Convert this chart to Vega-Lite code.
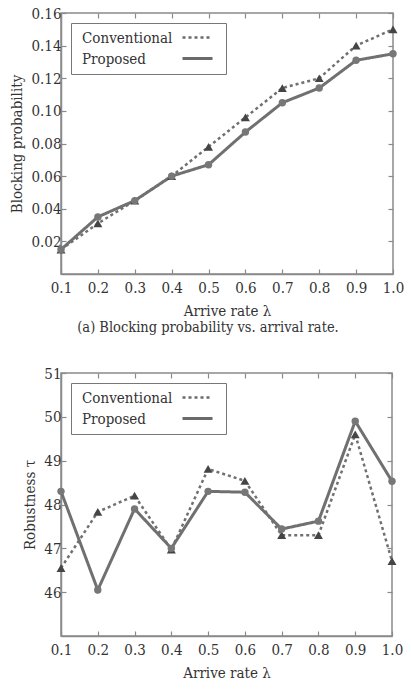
{
  "$schema": "https://vega.github.io/schema/vega-lite/v6.json",
  "background": "white",
  "padding": {"left": 9, "right": 12, "top": 5, "bottom": 5},
  "datasets": {
    "blocking": [
      {"rate": 0.1, "series": "Conventional", "value": 0.015},
      {"rate": 0.2, "series": "Conventional", "value": 0.031},
      {"rate": 0.3, "series": "Conventional", "value": 0.045},
      {"rate": 0.4, "series": "Conventional", "value": 0.060},
      {"rate": 0.5, "series": "Conventional", "value": 0.078},
      {"rate": 0.6, "series": "Conventional", "value": 0.096},
      {"rate": 0.7, "series": "Conventional", "value": 0.114},
      {"rate": 0.8, "series": "Conventional", "value": 0.120},
      {"rate": 0.9, "series": "Conventional", "value": 0.140},
      {"rate": 1.0, "series": "Conventional", "value": 0.150},
      {"rate": 0.1, "series": "Proposed", "value": 0.015},
      {"rate": 0.2, "series": "Proposed", "value": 0.035},
      {"rate": 0.3, "series": "Proposed", "value": 0.045},
      {"rate": 0.4, "series": "Proposed", "value": 0.060},
      {"rate": 0.5, "series": "Proposed", "value": 0.067},
      {"rate": 0.6, "series": "Proposed", "value": 0.087},
      {"rate": 0.7, "series": "Proposed", "value": 0.105},
      {"rate": 0.8, "series": "Proposed", "value": 0.114},
      {"rate": 0.9, "series": "Proposed", "value": 0.131},
      {"rate": 1.0, "series": "Proposed", "value": 0.135}
    ],
    "robustness": [
      {"rate": 0.1, "series": "Conventional", "value": 46.55},
      {"rate": 0.2, "series": "Conventional", "value": 47.83},
      {"rate": 0.3, "series": "Conventional", "value": 48.2},
      {"rate": 0.4, "series": "Conventional", "value": 46.97},
      {"rate": 0.5, "series": "Conventional", "value": 48.81},
      {"rate": 0.6, "series": "Conventional", "value": 48.54},
      {"rate": 0.7, "series": "Conventional", "value": 47.3},
      {"rate": 0.8, "series": "Conventional", "value": 47.3},
      {"rate": 0.9, "series": "Conventional", "value": 49.6},
      {"rate": 1.0, "series": "Conventional", "value": 46.71},
      {"rate": 0.1, "series": "Proposed", "value": 48.3},
      {"rate": 0.2, "series": "Proposed", "value": 46.05},
      {"rate": 0.3, "series": "Proposed", "value": 47.9},
      {"rate": 0.4, "series": "Proposed", "value": 47.0},
      {"rate": 0.5, "series": "Proposed", "value": 48.3},
      {"rate": 0.6, "series": "Proposed", "value": 48.28},
      {"rate": 0.7, "series": "Proposed", "value": 47.44},
      {"rate": 0.8, "series": "Proposed", "value": 47.62},
      {"rate": 0.9, "series": "Proposed", "value": 49.9},
      {"rate": 1.0, "series": "Proposed", "value": 48.53}
    ]
  },
  "spacing": 29,
  "vconcat": [
    {
      "width": 332,
      "height": 261,
      "title": {"text": "(a) Blocking probability vs. arrival rate.", "orient": "bottom", "fontSize": 14.5, "offset": 3, "dx": -19},
      "data": {"name": "blocking"},
      "layer": [
        {
          "mark": {"type": "line", "color": "#707070"},
          "encoding": {
            "x": {"field": "rate", "type": "quantitative", "scale": {"domain": [0.1, 1.0], "nice": false},
                  "axis": {"values": [0.1, 0.2, 0.3, 0.4, 0.5, 0.6, 0.7, 0.8, 0.9, 1.0], "format": ".1f", "title": "Arrive rate λ"}},
            "y": {"field": "value", "type": "quantitative", "scale": {"domain": [0, 0.16], "nice": false, "zero": false},
                  "axis": {"values": [0.02, 0.04, 0.06, 0.08, 0.10, 0.12, 0.14, 0.16], "format": ".2f", "title": "Blocking probability"}},
            "strokeDash": {"field": "series", "type": "nominal", "scale": {"domain": ["Conventional", "Proposed"], "range": [[3, 3], [1, 0]]}, "legend": {"title": null}},
            "strokeWidth": {"field": "series", "type": "nominal", "scale": {"domain": ["Conventional", "Proposed"], "range": [2.5, 3]}, "legend": {"title": null}}
          }
        },
        {
          "transform": [{"filter": "datum.series === 'Conventional'"}],
          "mark": {"type": "point", "shape": "triangle-up", "filled": true, "opacity": 1, "color": "#454545", "size": 80},
          "encoding": {
            "x": {"field": "rate", "type": "quantitative", "axis": {"orient": "top", "values": [0.1, 0.2, 0.3, 0.4, 0.5, 0.6, 0.7, 0.8, 0.9, 1.0], "labels": false, "title": null, "domain": false}},
            "y": {"field": "value", "type": "quantitative", "axis": {"orient": "right", "values": [0.02, 0.04, 0.06, 0.08, 0.10, 0.12, 0.14, 0.16], "labels": false, "title": null, "domain": false}}
          }
        },
        {
          "transform": [{"filter": "datum.series === 'Proposed'"}],
          "mark": {"type": "point", "shape": "circle", "filled": true, "opacity": 1, "color": "#777777", "size": 55},
          "encoding": {
            "x": {"field": "rate", "type": "quantitative", "axis": null},
            "y": {"field": "value", "type": "quantitative", "axis": null}
          }
        }
      ],
      "resolve": {"axis": {"x": "independent", "y": "independent"}}
    },
    {
      "width": 331,
      "height": 263,
      "data": {"name": "robustness"},
      "layer": [
        {
          "mark": {"type": "line", "color": "#707070"},
          "encoding": {
            "x": {"field": "rate", "type": "quantitative", "scale": {"domain": [0.1, 1.0], "nice": false},
                  "axis": {"values": [0.1, 0.2, 0.3, 0.4, 0.5, 0.6, 0.7, 0.8, 0.9, 1.0], "format": ".1f", "title": "Arrive rate λ"}},
            "y": {"field": "value", "type": "quantitative", "scale": {"domain": [45, 51], "nice": false, "zero": false},
                  "axis": {"values": [46, 47, 48, 49, 50, 51], "format": "d", "title": "Robustness τ"}},
            "strokeDash": {"field": "series", "type": "nominal", "scale": {"domain": ["Conventional", "Proposed"], "range": [[3, 3], [1, 0]]}, "legend": {"title": null}},
            "strokeWidth": {"field": "series", "type": "nominal", "scale": {"domain": ["Conventional", "Proposed"], "range": [2.5, 3]}, "legend": {"title": null}}
          }
        },
        {
          "transform": [{"filter": "datum.series === 'Conventional'"}],
          "mark": {"type": "point", "shape": "triangle-up", "filled": true, "opacity": 1, "color": "#454545", "size": 80},
          "encoding": {
            "x": {"field": "rate", "type": "quantitative", "axis": {"orient": "top", "values": [0.1, 0.2, 0.3, 0.4, 0.5, 0.6, 0.7, 0.8, 0.9, 1.0], "labels": false, "title": null, "domain": false}},
            "y": {"field": "value", "type": "quantitative", "axis": {"orient": "right", "values": [46, 47, 48, 49, 50, 51], "labels": false, "title": null, "domain": false}}
          }
        },
        {
          "transform": [{"filter": "datum.series === 'Proposed'"}],
          "mark": {"type": "point", "shape": "circle", "filled": true, "opacity": 1, "color": "#777777", "size": 55},
          "encoding": {
            "x": {"field": "rate", "type": "quantitative", "axis": null},
            "y": {"field": "value", "type": "quantitative", "axis": null}
          }
        }
      ],
      "resolve": {"axis": {"x": "independent", "y": "independent"}}
    }
  ],
  "resolve": {"scale": {"strokeDash": "independent", "strokeWidth": "independent"}, "legend": {"strokeDash": "independent", "strokeWidth": "independent"}},
  "config": {
    "font": "DejaVu Serif Condensed, DejaVu Serif",
    "view": {"stroke": "#8a8a8a", "strokeWidth": 1.5},
    "title": {"font": "DejaVu Serif Condensed, DejaVu Serif", "fontWeight": "normal", "color": "#333333"},
    "axis": {
      "labelFont": "DejaVu Serif Condensed, DejaVu Serif", "labelFontSize": 15, "labelColor": "#333333",
      "titleFont": "DejaVu Serif Condensed, DejaVu Serif", "titleFontSize": 15, "titleFontWeight": "normal", "titleColor": "#333333",
      "grid": false, "domainColor": "#8a8a8a", "domainWidth": 1.5, "tickColor": "#8a8a8a", "tickWidth": 1.2,
      "tickSize": -5, "labelPadding": 5, "labelFlush": false, "labelOverlap": false
    },
    "axisX": {"titlePadding": 8, "labelPadding": 11},
    "axisY": {"titlePadding": 6},
    "legend": {
      "orient": "top-left", "offset": 10, "strokeColor": "#777777", "fillColor": "white", "padding": 7,
      "symbolType": "M-3,0H3", "symbolSize": 100, "symbolStrokeColor": "#6a6a6a",
      "labelFont": "DejaVu Serif Condensed, DejaVu Serif", "labelFontSize": 15, "labelColor": "#333333",
      "labelOffset": -123, "symbolOffset": 112, "rowPadding": 5
    }
  }
}
